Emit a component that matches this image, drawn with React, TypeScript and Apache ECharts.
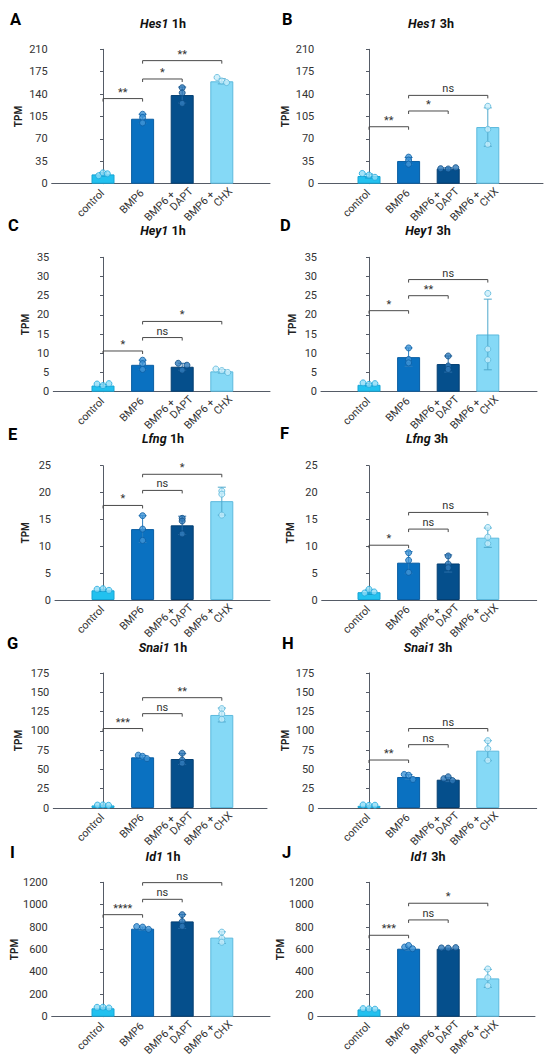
import React, { useEffect, useRef } from 'react';
import * as echarts from 'echarts';

// ---------- data ----------
const groups = ['control', 'BMP6', 'BMP6 +\nDAPT', 'BMP6 +\nCHX'];
const panelLetters = ['A', 'B', 'C', 'D', 'E', 'F', 'G', 'H', 'I', 'J'];
const genes = ['Hes1', 'Hes1', 'Hey1', 'Hey1', 'Lfng', 'Lfng', 'Snai1', 'Snai1', 'Id1', 'Id1'];
const times = ['1h', '3h', '1h', '3h', '1h', '3h', '1h', '3h', '1h', '3h'];
const yMaxes = [210, 210, 35, 35, 25, 25, 175, 175, 1200, 1200];
const yIntervals = [35, 35, 5, 5, 5, 5, 25, 25, 200, 200];

const hes1_1h_mean = [14.5, 101.5, 138.5, 160];
const hes1_1h_sd = [2.5, 7, 12.5, 4];
const hes1_1h_pts = [[12.5, 17, 15.5], [108.5, 103.5, 95], [150, 142, 125.5], [166, 160.5, 158]];
const hes1_1h_sig = ['**', '*', '**'];
const hes1_1h_sigY = [133, 163.6, 192.3];

const hes1_3h_mean = [12, 35.5, 23.5, 88.5];
const hes1_3h_sd = [3, 5.5, 1.5, 30];
const hes1_3h_pts = [[16, 13.5, 10], [41.5, 37, 30.5], [23.5, 23, 25], [121, 85, 61.5]];
const hes1_3h_sig = ['**', '*', 'ns'];
const hes1_3h_sigY = [89, 113.6, 138];

const hey1_1h_mean = [1.6, 7, 6.5, 5.3];
const hey1_1h_sd = [0.3, 1.2, 0.9, 0.45];
const hey1_1h_pts = [[2, 1.6, 2.1], [8.2, 7.3, 5.8], [7.4, 6.9, 5.6], [5.9, 5.5, 5.0]];
const hey1_1h_sig = ['*', 'ns', '*'];
const hey1_1h_sigY = [10.6, 14.1, 18.3];

const hey1_3h_mean = [1.8, 9, 7.2, 14.9];
const hey1_3h_sd = [0.3, 2.4, 2.1, 9.2];
const hey1_3h_pts = [[2.3, 1.9, 2.1], [11.4, 8.4, 7.5], [9.3, 6.7, 5.8], [25.6, 11.1, 8.3]];
const hey1_3h_sig = ['*', '**', 'ns'];
const hey1_3h_sigY = [21.1, 25, 29.2];

const lfng_1h_mean = [1.8, 13.2, 13.9, 18.4];
const lfng_1h_sd = [0.2, 2.5, 1.7, 2.6];
const lfng_1h_pts = [[2.0, 2.1, 1.8], [15.7, 13.2, 11.1], [15.2, 14.7, 12.3], [20.3, 19.7, 15.8]];
const lfng_1h_sig = ['*', 'ns', '*'];
const lfng_1h_sigY = [17.6, 20.4, 23.4];

const lfng_3h_mean = [1.45, 6.95, 6.8, 11.6];
const lfng_3h_sd = [0.4, 2.05, 1.6, 1.8];
const lfng_3h_pts = [[1.3, 2.0, 1.5], [8.8, 7.4, 5.15], [8.2, 6.7, 6.0], [13.5, 11.7, 10.5]];
const lfng_3h_sig = ['*', 'ns', 'ns'];
const lfng_3h_sigY = [10.2, 13.2, 16.3];

const snai1_1h_mean = [3.3, 65.7, 63.5, 120.6];
const snai1_1h_sd = [0.5, 2.5, 7, 9];
const snai1_1h_pts = [[3.8, 4.0, 3.5], [68.5, 67, 64], [71, 62, 58], [128.8, 121.9, 115]];
const snai1_1h_sig = ['***', 'ns', '**'];
const snai1_1h_sigY = [103, 122.3, 143];

const snai1_3h_mean = [2.8, 40.2, 36.7, 74.3];
const snai1_3h_sd = [0.6, 3, 2.5, 13];
const snai1_3h_pts = [[4, 3.4, 3.6], [43.5, 42.5, 37], [38, 40.5, 35.5], [87.3, 76.9, 61.8]];
const snai1_3h_sig = ['**', 'ns', 'ns'];
const snai1_3h_sigY = [62.2, 82.1, 103];

const id1_1h_mean = [75, 786, 851, 706];
const id1_1h_sd = [6, 14, 62, 52];
const id1_1h_pts = [[84, 85, 78], [805, 800, 780], [911, 849, 807], [755, 700, 665]];
const id1_1h_sig = ['****', 'ns', 'ns'];
const id1_1h_sigY = [911, 1048, 1197];

const id1_3h_mean = [65, 607, 607, 342];
const id1_3h_sd = [5, 15, 5, 80];
const id1_3h_pts = [[72, 70, 67], [622, 636, 607], [614, 612, 617], [426, 348, 277]];
const id1_3h_sig = ['***', 'ns', '*'];
const id1_3h_sigY = [727, 864, 1013];

// swarm x-offsets of the three replicate dots (in category units)
const J3 = [-0.15, 0, 0.15];
const J0 = [0, 0, 0];
const jitters = [
  [[-0.11, 0, 0.11], J0, J0, [-0.12, 0, 0.12]],
  [[-0.17, 0, 0.15], J0, [-0.19, 0, 0.19], J0],
  [J3, J0, [-0.1, 0.12, 0], J3],
  [J3, J0, J0, J0],
  [J3, J0, J0, J0],
  [[-0.11, 0, 0.13], J0, J0, J0],
  [[-0.14, 0, 0.14], [-0.11, 0, 0.11], J0, J0],
  [J3, [-0.11, 0, 0.11], [-0.11, 0, 0.11], J0],
  [J3, [-0.15, 0, 0.15], J0, J0],
  [J3, [-0.1, 0, 0.1], [-0.17, 0, 0.19], J0],
];

const means = [hes1_1h_mean, hes1_3h_mean, hey1_1h_mean, hey1_3h_mean, lfng_1h_mean, lfng_3h_mean, snai1_1h_mean, snai1_3h_mean, id1_1h_mean, id1_3h_mean];
const sds = [hes1_1h_sd, hes1_3h_sd, hey1_1h_sd, hey1_3h_sd, lfng_1h_sd, lfng_3h_sd, snai1_1h_sd, snai1_3h_sd, id1_1h_sd, id1_3h_sd];
const pts = [hes1_1h_pts, hes1_3h_pts, hey1_1h_pts, hey1_3h_pts, lfng_1h_pts, lfng_3h_pts, snai1_1h_pts, snai1_3h_pts, id1_1h_pts, id1_3h_pts];
const sigs = [hes1_1h_sig, hes1_3h_sig, hey1_1h_sig, hey1_3h_sig, lfng_1h_sig, lfng_3h_sig, snai1_1h_sig, snai1_3h_sig, id1_1h_sig, id1_3h_sig];
const sigYs = [hes1_1h_sigY, hes1_3h_sigY, hey1_1h_sigY, hey1_3h_sigY, lfng_1h_sigY, lfng_3h_sigY, snai1_1h_sigY, snai1_3h_sigY, id1_1h_sigY, id1_3h_sigY];
const sigPairs = [[0, 1], [1, 2], [1, 3]];

// ---------- styles / layout ----------
const barFill = ['#22c1ef', '#0a71c1', '#054f8c', '#85d9f6'];
const barBorder = ['#17a4d4', '#0a5ea3', '#043f72', '#5cb9dd'];
const errColor = ['#1596c8', '#2a7dbd', '#2a6ea8', '#4fa8cc'];
const dotFill = ['#8fdcf6', '#3f93d6', '#2f79b9', '#c8eefb'];
const dotBorder = ['#1ea8dc', '#0b5ea4', '#0a4a82', '#5ab6da'];
const AXIS = '#555b66';
const TXT = '#333333';
const FONT = 'Roboto';

const rowTop = [49.3, 257.3, 465.7, 673, 882.3];
const rowBottom = [183.7, 391.7, 600, 808, 1016.7];
const axLeft = [51.7, 318.3, 53.3, 321, 55, 321.7, 53.3, 318.3, 51.7, 317.7];
const axRight = [270, 543, 270, 537, 270, 536.7, 267, 536.7, 270, 535];
const colOrigin = [103, 369];
const SPACING = 39.6;
const LABEL_SHIFT = 0.13; // label anchor offset along the axis (category units)
const tpmX = [18, 285, 25, 292, 25, 290, 18, 285, 15, 281];
const titleX = [163, 431, 163, 428, 163, 427, 163, 428, 163, 428];
const titleY = [23, 23, 230, 230, 438, 438, 647, 647, 856, 856];
const letterX = [10, 282, 8, 280, 8, 280, 7, 282, 10, 282];
const letterY = [19, 19, 225, 225, 434, 433, 643, 643, 852, 852];

const LBL = { fontSize: 10.8, lineHeight: 10.5, fontFamily: FONT, color: TXT };

function buildOption() {
  const grid: any[] = [];
  const xAxis: any[] = [];
  const yAxis: any[] = [];
  const series: any[] = [];
  const graphic: any[] = [];

  for (let p = 0; p < 10; p++) {
    const row = Math.floor(p / 2);
    const col = p % 2;
    const left = axLeft[p];
    const right = axRight[p];
    const top = rowTop[row];
    const height = rowBottom[row] - top;
    const origin = colOrigin[col];
    grid.push({ left, top, width: right - left, height, outerBoundsMode: 'none', containLabel: false });
    xAxis.push({
      type: 'value',
      gridIndex: p,
      min: -(origin - left) / SPACING,
      max: (right - origin) / SPACING,
      splitLine: { show: false },
      axisTick: { show: false },
      axisLine: { show: true, lineStyle: { color: AXIS, width: 1 } },
      axisLabel: {
        customValues: groups.map((_, i) => i + LABEL_SHIFT),
        formatter: (v: number) => {
          const g = groups[Math.round(v - LABEL_SHIFT)] || '';
          const parts = g.split('\n');
          if (parts.length === 1) return '{single|' + g + '}';
          return '{first|' + parts[0] + '}\n{second|' + parts[1] + '}';
        },
        rotate: 45,
        align: 'right',
        verticalAlign: 'middle',
        color: TXT,
        fontFamily: FONT,
        fontSize: 10.8,
        margin: 2,
        rich: {
          single: { ...LBL, padding: [0, 8, 0, 0] },
          first: { ...LBL, padding: [0, 15, 0, 0] },
          second: { ...LBL },
        },
      },
    });
    yAxis.push({
      type: 'value',
      gridIndex: p,
      min: 0,
      max: yMaxes[p],
      interval: yIntervals[p],
      splitLine: { show: false },
      axisLine: { show: true, lineStyle: { color: AXIS, width: 1 } },
      axisTick: { show: true, length: 3, lineStyle: { color: AXIS } },
      axisLabel: { fontSize: 11, color: TXT, fontFamily: FONT, margin: 4, formatter: (v: number) => String(v) },
      name: 'TPM',
      nameLocation: 'middle',
      nameGap: left - tpmX[p] - 5,
      nameTextStyle: { fontWeight: 'bold', fontSize: 10, color: '#222', fontFamily: FONT },
    });

    const m = means[p];
    const s = sds[p];
    series.push({
      type: 'bar',
      xAxisIndex: p,
      yAxisIndex: p,
      barWidth: 23,
      z: 2,
      data: m.map((v, i) => ({
        value: [i, v],
        itemStyle: { color: barFill[i], borderColor: barBorder[i], borderWidth: 1 },
      })),
    });
    series.push({
      type: 'custom',
      xAxisIndex: p,
      yAxisIndex: p,
      z: 3,
      encode: { x: 0, y: [1, 2] },
      data: m.map((v, i) => [i, v - s[i], v + s[i]]),
      renderItem: (params: any, api: any) => {
        const x = api.value(0);
        const lo = api.coord([x, api.value(1)]);
        const hi = api.coord([x, api.value(2)]);
        const c = errColor[params.dataIndex];
        const w = 4;
        const st = { stroke: c, lineWidth: 1 };
        return {
          type: 'group',
          children: [
            { type: 'line', shape: { x1: lo[0], y1: lo[1], x2: hi[0], y2: hi[1] }, style: st },
            { type: 'line', shape: { x1: hi[0] - w, y1: hi[1], x2: hi[0] + w, y2: hi[1] }, style: st },
            { type: 'line', shape: { x1: lo[0] - w, y1: lo[1], x2: lo[0] + w, y2: lo[1] }, style: st },
          ],
        };
      },
    });
    const dots: any[] = [];
    pts[p].forEach((arr, i) => {
      arr.forEach((v, k) => {
        dots.push({
          value: [i + jitters[p][i][k], v],
          itemStyle: { color: dotFill[i], borderColor: dotBorder[i], borderWidth: 1 },
        });
      });
    });
    series.push({
      type: 'scatter',
      xAxisIndex: p,
      yAxisIndex: p,
      z: 4,
      symbolSize: 6,
      data: dots,
    });
    const sg = sigs[p];
    series.push({
      type: 'custom',
      xAxisIndex: p,
      yAxisIndex: p,
      z: 5,
      encode: { x: [0, 1], y: 2 },
      data: sigPairs.map((pr, k) => [pr[0], pr[1], sigYs[p][k]]),
      renderItem: (params: any, api: any) => {
        const a = api.coord([api.value(0), api.value(2)]);
        const b = api.coord([api.value(1), api.value(2)]);
        const txt = sg[params.dataIndex];
        return {
          type: 'group',
          children: [
            {
              type: 'polyline',
              shape: { points: [[a[0], a[1] + 3], [a[0], a[1]], [b[0], b[1]], [b[0], b[1] + 3]] },
              style: { stroke: '#4a4a4a', lineWidth: 1, fill: 'none' },
            },
            {
              type: 'text',
              x: (a[0] + b[0]) / 2,
              y: a[1] - 1,
              style: {
                text: txt,
                fill: TXT,
                fontSize: 11,
                fontFamily: FONT,
                align: 'center',
                verticalAlign: 'bottom',
              },
            },
          ],
        };
      },
    });

    graphic.push({
      type: 'text',
      x: titleX[p],
      y: titleY[p],
      style: {
        text: '{g|' + genes[p] + '} {t|' + times[p] + '}',
        align: 'center',
        verticalAlign: 'middle',
        rich: {
          g: { fontStyle: 'italic', fontWeight: 'bold', fontSize: 12.5, fontFamily: FONT, fill: '#111' },
          t: { fontWeight: 'bold', fontSize: 12.5, fontFamily: FONT, fill: '#111' },
        },
      },
    });
    graphic.push({
      type: 'text',
      x: letterX[p],
      y: letterY[p],
      style: {
        text: panelLetters[p],
        fill: '#000',
        fontSize: 16.5,
        fontWeight: 'bold',
        fontFamily: FONT,
        align: 'left',
        verticalAlign: 'middle',
      },
    });
  }

  return {
    animation: false,
    backgroundColor: '#ffffff',
    textStyle: { fontFamily: FONT },
    grid,
    xAxis,
    yAxis,
    series,
    graphic,
  };
}

export default function App() {
  const ref = useRef<HTMLDivElement>(null);
  useEffect(() => {
    if (!ref.current) return;
    const chart = echarts.init(ref.current, undefined, { renderer: 'svg' });
    chart.setOption(buildOption() as any);
    return () => chart.dispose();
  }, []);
  return (
    <div
      ref={ref}
      style={{ position: 'absolute', left: 0, top: 0, width: 550, height: 1059, background: '#fff' }}
    />
  );
}
